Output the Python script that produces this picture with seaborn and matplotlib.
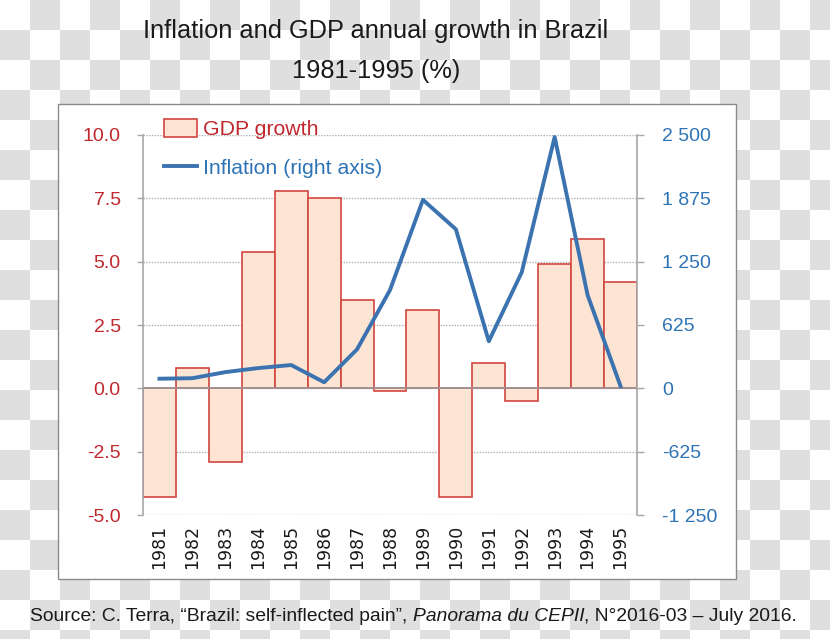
import numpy as np
import matplotlib
matplotlib.use("Agg")
import matplotlib.pyplot as plt
import seaborn as sns
from matplotlib.patches import Patch, Rectangle
from matplotlib.lines import Line2D
from matplotlib.ticker import FixedLocator, FuncFormatter

# ---- data ----
years = ["1981", "1982", "1983", "1984", "1985", "1986", "1987", "1988",
         "1989", "1990", "1991", "1992", "1993", "1994", "1995"]
gdp_growth = [-4.3, 0.8, -2.9, 5.4, 7.8, 7.5, 3.5, -0.1, 3.1, -4.3, 1.0, -0.5, 4.9, 5.9, 4.2]
inflation = [95, 100, 160, 200, 230, 60, 385, 970, 1860, 1570, 465, 1145, 2480, 920, 22]
left_ticks = [-5.0, -2.5, 0.0, 2.5, 5.0, 7.5, 10.0]
right_ticks = [-1250, -625, 0, 625, 1250, 1875, 2500]

RED = "#c0282d"
EDGE = "#d2463f"
FILL = "#fde4d3"
BLUE = "#2e74b5"
LINE_BLUE = "#3b73b0"
GRAY = "#a6a6a6"

plt.rcParams["font.family"] = ["Liberation Sans", "DejaVu Sans"]

W, H = 830, 639
fig = plt.figure(figsize=(W / 100, H / 100), dpi=100)

# checkered background
yy, xx = np.mgrid[0:H, 0:W]
checker = np.where(((xx // 30) + (yy // 30)) % 2 == 0, 1.0, 0.878)
rgb = np.dstack([checker, checker, checker])
fig.figimage(rgb, xo=0, yo=0, origin="upper", zorder=-3)

# white chart box
box = Rectangle((58 / W, 1 - 579 / H), (736 - 58) / W, (579 - 104) / H,
                transform=fig.transFigure, facecolor="white",
                edgecolor="#8a8a8a", linewidth=1.0, zorder=-2)
fig.add_artist(box)

ax = fig.add_axes([143 / W, 1 - 515 / H, (637 - 143) / W, (515 - 135) / H])
ax.set_facecolor("none")

sns.barplot(x=years, y=gdp_growth, ax=ax, color=FILL, saturation=1,
            edgecolor=EDGE, linewidth=1.2, width=1.0, zorder=2)
ax.set_xlim(-0.5, len(years) - 0.5)
ax.set_ylim(-5, 10)
ax.yaxis.set_major_locator(FixedLocator(left_ticks))
ax.yaxis.set_major_formatter(FuncFormatter(lambda v, p: f"{v:.1f}"))
ax.set_axisbelow(True)
ax.grid(axis="y", color="#b0b0b0", linestyle=(0, (1, 1)), linewidth=1.0)
ax.grid(axis="x", visible=False)
ax.axhline(0, color="#9a9a9a", linewidth=1.2, zorder=3)
for s in ["top", "bottom", "right"]:
    ax.spines[s].set_visible(False)
ax.spines["left"].set_color(GRAY)
ax.spines["left"].set_linewidth(1.2)
ax.tick_params(axis="y", colors=GRAY, labelcolor=RED, length=4, width=1,
               pad=12, labelsize=14)
ax.tick_params(axis="x", length=0, pad=7, labelsize=12.5, labelcolor="#1a1a1a")
for lab in ax.get_xticklabels():
    lab.set_rotation(90)
    lab.set_family(["DejaVu Sans"])
    lab.set_va("top")
ax.set_xlabel("")
ax.set_ylabel("")

ax2 = ax.twinx()
sns.lineplot(x=np.arange(len(years)), y=inflation, ax=ax2, color=LINE_BLUE,
             linewidth=2.8, zorder=4)
ax2.set_ylim(-1250, 2500)
ax2.yaxis.set_major_locator(FixedLocator(right_ticks))
ax2.yaxis.set_major_formatter(
    FuncFormatter(lambda v, p: f"{int(v):,}".replace(",", " ")))
for s in ["top", "bottom", "left"]:
    ax2.spines[s].set_visible(False)
ax2.spines["right"].set_color(GRAY)
ax2.spines["right"].set_linewidth(1.2)
ax2.tick_params(axis="y", colors=GRAY, labelcolor=BLUE, length=5, width=1,
                pad=13, labelsize=14)
ax2.set_ylabel("")
ax2.set_xlim(-0.5, len(years) - 0.5)

handles = [Patch(facecolor=FILL, edgecolor=EDGE, linewidth=1.2),
           Line2D([0], [0], color=LINE_BLUE, linewidth=2.8)]
leg = ax2.legend(handles, ["GDP growth", "Inflation (right axis)"],
                 loc="upper left", bbox_to_anchor=(0.025, 1.065),
                 frameon=False, fontsize=15.3, handlelength=1.55,
                 handleheight=0.95, handletextpad=0.3, labelspacing=0.85,
                 borderaxespad=0)
leg.get_texts()[0].set_color(RED)
leg.get_texts()[1].set_color(BLUE)

# title
fig.text(376 / W, 1 - 31 / H, "Inflation and GDP annual growth in Brazil",
         ha="center", va="center", fontsize=18.3, color="#1a1a1a")
fig.text(376 / W, 1 - 71 / H, "1981-1995 (%)",
         ha="center", va="center", fontsize=18.3, color="#1a1a1a")

# source line with italic part
pieces = [("Source: C. Terra, \u201cBrazil: self-inflected pain\u201d, ", "normal"),
          ("Panorama du CEPII", "italic"),
          (", N\u00b02016-03 \u2013 July 2016.", "normal")]
renderer = fig.canvas.get_renderer()
x_px = 30
y_fig = 1 - 621 / H
for txt, style in pieces:
    t = fig.text(x_px / W, y_fig, txt, ha="left", va="baseline",
                 fontsize=13.9, style=style, color="#1a1a1a")
    bb = t.get_window_extent(renderer=renderer)
    x_px = bb.x1

fig.savefig("out.png", dpi=100)
